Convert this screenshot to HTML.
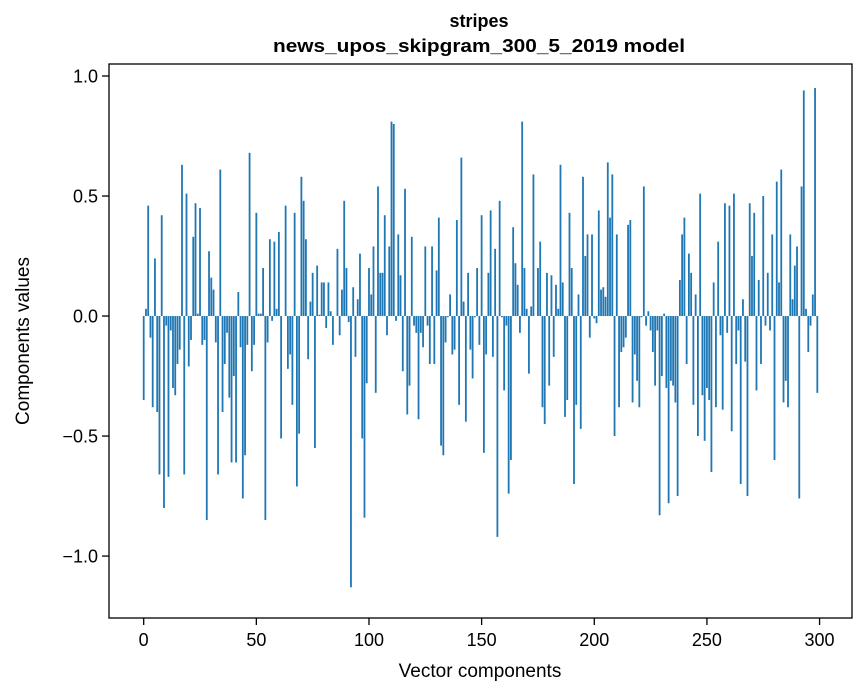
<!DOCTYPE html>
<html><head><meta charset="utf-8"><style>
html,body{margin:0;padding:0;background:#fff;}
svg{display:block;font-family:"Liberation Sans",Arial,sans-serif;}
</style></head><body>
<svg id="chart" width="867" height="696" viewBox="0 0 867 696">
  <rect x="0" y="0" width="867" height="696" fill="#fff"/>
  <text x="479" y="27" text-anchor="middle" font-size="18" font-weight="bold">stripes</text>
  <text x="479" y="52" text-anchor="middle" font-size="18" font-weight="bold" textLength="412" lengthAdjust="spacingAndGlyphs">news_upos_skipgram_300_5_2019 model</text>
  <g id="bars"></g>
  <g id="xticks"></g>
  <g id="yticks"></g>
  <rect x="109" y="64" width="743" height="554" fill="none" stroke="#000" stroke-width="1.3"/>
  <text x="480" y="677" text-anchor="middle" font-size="19">Vector components</text>
  <text x="0" y="0" transform="translate(29,341) rotate(-90)" text-anchor="middle" font-size="19">Components values</text>
</svg>
<script>
const values = [
-0.35,0.03,0.46,-0.09,-0.38,0.24,-0.40,-0.66,0.42,-0.80,
-0.04,-0.67,-0.06,-0.30,-0.33,-0.20,-0.14,0.63,-0.66,0.51,
-0.21,-0.10,0.33,0.47,0.01,0.45,-0.12,-0.10,-0.85,0.27,
0.16,0.11,-0.11,-0.66,0.61,-0.40,-0.20,-0.07,-0.34,-0.61,
-0.25,-0.61,0.10,-0.13,-0.76,-0.58,-0.12,0.68,-0.23,-0.12,
0.43,0.01,0.01,0.20,-0.85,-0.11,0.32,-0.02,0.31,0.03,
0.35,-0.51,0.0,0.46,-0.22,-0.16,-0.37,0.43,-0.71,-0.49,
0.58,0.48,0.32,-0.18,0.06,0.18,-0.55,0.21,0.005,0.14,
0.14,-0.05,0.14,0.02,-0.12,0.0,0.28,-0.08,0.11,0.48,
0.20,-0.025,-1.13,0.12,-0.17,0.07,0.26,-0.51,-0.84,-0.28,
0.20,0.09,0.29,-0.32,0.54,0.18,0.18,0.42,-0.08,0.29,
0.81,0.80,-0.02,0.34,0.17,-0.23,0.53,-0.41,-0.29,0.33,
-0.04,-0.07,-0.43,-0.07,-0.13,0.29,-0.04,-0.20,0.29,-0.20,
0.19,0.41,-0.54,-0.58,-0.11,-0.005,0.09,-0.16,-0.14,0.40,
-0.37,0.66,0.06,-0.44,0.18,-0.14,-0.26,-0.005,0.20,-0.12,
0.42,-0.57,-0.16,0.18,0.44,-0.17,0.28,-0.92,0.48,-0.005,
-0.31,-0.04,-0.74,-0.60,0.37,0.22,0.13,-0.07,0.81,0.20,
0.03,-0.24,0.04,0.59,0.0,0.20,0.31,-0.38,-0.45,0.18,
-0.29,0.17,-0.17,0.13,0.03,0.63,0.14,-0.42,-0.35,0.43,
0.20,-0.70,-0.37,0.09,-0.47,0.58,0.25,0.34,-0.09,0.34,
-0.01,-0.03,0.44,0.11,0.12,0.08,0.64,0.41,0.59,-0.50,
0.34,-0.38,-0.15,-0.13,-0.09,0.38,0.40,-0.36,-0.16,-0.27,
-0.38,-0.005,0.54,-0.04,0.02,-0.06,-0.15,-0.29,-0.06,-0.83,
-0.25,0.01,-0.30,-0.78,-0.27,-0.29,-0.36,-0.75,0.15,0.34,
0.41,-0.20,0.26,0.18,-0.37,0.09,-0.50,0.51,-0.33,-0.52,
-0.30,-0.35,-0.65,0.14,-0.38,0.31,-0.08,-0.39,0.47,-0.07,
0.46,-0.48,0.51,-0.20,-0.06,-0.70,0.07,-0.19,-0.75,0.47,
0.25,0.43,-0.31,0.15,-0.20,0.50,-0.04,0.18,-0.06,0.34,
-0.60,0.56,0.14,0.61,-0.36,-0.27,-0.38,0.34,0.07,0.21,
0.29,-0.76,0.54,0.94,0.03,-0.15,-0.04,0.09,0.95,-0.32
];
const xTicks = [0,50,100,150,200,250,300];
const yTicks = [-1.0,-0.5,0.0,0.5,1.0];
const yTickLabels = ["\u22121.0","\u22120.5","0.0","0.5","1.0"];

const NS = "http://www.w3.org/2000/svg";
const PL = 109, PR = 852, PT = 64, PB = 618;
const xMin = -15.4, xMax = 314.4, yMin = -1.258, yMax = 1.05;
function xs(v){ return PL + (v - xMin) / (xMax - xMin) * (PR - PL); }
function ys(v){ return PB - (v - yMin) / (yMax - yMin) * (PB - PT); }

const barsG = document.getElementById('bars');
const bw = xs(0.8) - xs(0);
values.forEach((v, i) => {
  const r = document.createElementNS(NS, 'rect');
  const y0 = ys(0), y1 = ys(v);
  r.setAttribute('x', xs(i) - bw / 2);
  r.setAttribute('y', Math.min(y0, y1));
  r.setAttribute('width', bw);
  r.setAttribute('height', Math.abs(y1 - y0));
  r.setAttribute('fill', '#1f77b4');
  
  
  barsG.appendChild(r);
});

const xg = document.getElementById('xticks');
xTicks.forEach(t => {
  const l = document.createElementNS(NS, 'line');
  l.setAttribute('x1', xs(t)); l.setAttribute('x2', xs(t));
  l.setAttribute('y1', PB); l.setAttribute('y2', PB + 7);
  l.setAttribute('stroke', '#000'); l.setAttribute('stroke-width', '1.3');
  
  
  xg.appendChild(l);
  const tx = document.createElementNS(NS, 'text');
  tx.setAttribute('x', xs(t)); tx.setAttribute('y', PB + 28);
  tx.setAttribute('text-anchor', 'middle'); tx.setAttribute('font-size', '18');
  tx.textContent = String(t);
  
  
  xg.appendChild(tx);
});

const yg = document.getElementById('yticks');
yTicks.forEach((t, i) => {
  const l = document.createElementNS(NS, 'line');
  l.setAttribute('x1', PL - 7); l.setAttribute('x2', PL);
  l.setAttribute('y1', ys(t)); l.setAttribute('y2', ys(t));
  l.setAttribute('stroke', '#000'); l.setAttribute('stroke-width', '1.3');
  
  
  yg.appendChild(l);
  const tx = document.createElementNS(NS, 'text');
  tx.setAttribute('x', PL - 11); tx.setAttribute('y', ys(t) + 6.5);
  tx.setAttribute('text-anchor', 'end'); tx.setAttribute('font-size', '18');
  tx.textContent = yTickLabels[i];
  
  
  yg.appendChild(tx);
});
</script>
</body></html>
